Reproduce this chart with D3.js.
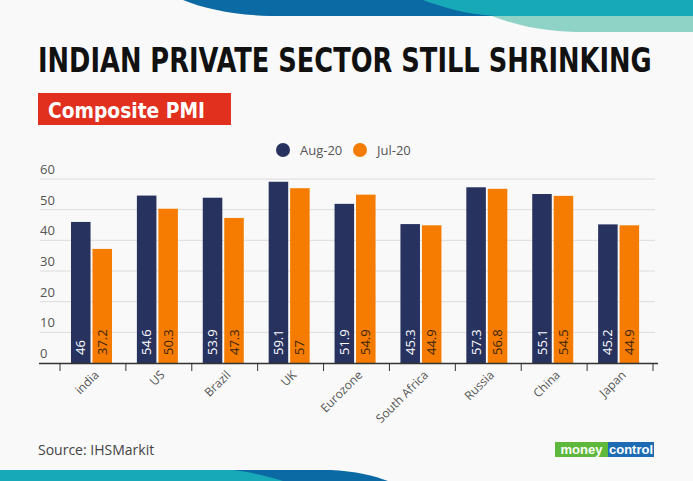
<!DOCTYPE html>
<html>
<head>
<meta charset="utf-8">
<script src="https://cdn.jsdelivr.net/npm/d3@7"></script>
<style>
  html, body { margin: 0; padding: 0; background: #f9f9f9; }
  svg { display: block; }
</style>
</head>
<body>
<script>
const categories = ["india", "US", "Brazil", "UK", "Eurozone", "South Africa", "Russia", "China", "Japan"];
const aug20 = [46, 54.6, 53.9, 59.1, 51.9, 45.3, 57.3, 55.1, 45.2];
const jul20 = [37.2, 50.3, 47.3, 57, 54.9, 44.9, 56.8, 54.5, 44.9];
const seriesNames = ["Aug-20", "Jul-20"];
const yTicks = [0, 10, 20, 30, 40, 50, 60];

const W = 693, H = 481;
const navy = "#27325f", orange = "#f57c00";
const txt = "#555";

const svg = d3.select("body").append("svg").attr("width", W).attr("height", H);
svg.append("rect").attr("width", W).attr("height", H).attr("fill", "#f9f9f9");

// top decoration
svg.append("path").attr("fill", "#0b69a3")
  .attr("d", "M183,0 C205,9 235,15 270,16 L500,16 L500,0 Z");
svg.append("path").attr("fill", "#17a9b7")
  .attr("d", "M423,0 C445,8 465,14 495,16 L693,16 L693,0 Z");
svg.append("path").attr("fill", "#8fd3c6")
  .attr("d", "M492,16 C515,25 540,31 575,32 L693,32 L693,16 Z");

// bottom decoration
svg.append("path").attr("fill", "#0b69a3")
  .attr("d", "M230,470 L330,470 C355,471 375,476 388,481 L230,481 Z");
svg.append("path").attr("fill", "#17a9b7")
  .attr("d", "M0,470 L234,470 C255,473 270,477 283,481 L0,481 Z");

const condensed = "'Liberation Sans Narrow', 'DejaVu Sans Condensed', 'Roboto Condensed', sans-serif";

// fit a text horizontally to a target width by scaling
function fitText(sel, x0, y0, target) {
  const w = sel.node().getComputedTextLength();
  sel.attr("x", 0).attr("y", 0)
    .attr("transform", `translate(${x0},${y0}) scale(${target / w},1)`);
}

// title
const title = svg.append("text")
  .attr("font-family", condensed)
  .attr("font-weight", "bold").attr("font-size", 33).attr("fill", "#111")
  .text("INDIAN PRIVATE SECTOR STILL SHRINKING");
fitText(title, 38, 72, 614);

// subtitle box
svg.append("rect").attr("x", 38).attr("y", 93).attr("width", 193).attr("height", 32).attr("fill", "#e2301f");
const sub = svg.append("text")
  .attr("font-family", condensed)
  .attr("font-weight", "bold").attr("font-size", 22).attr("fill", "#fff")
  .text("Composite PMI");
fitText(sub, 48, 118, 157);

// scales
const y = d3.scaleLinear().domain([0, 60]).range([363, 179]);
const x = d3.scaleBand().domain(categories).range([60, 653]).padding(0);
const xs = d3.scaleBand().domain(seriesNames).range([11, 52]).paddingInner(0.09);

const font = "'Open Sans', 'Noto Sans', sans-serif";

// gridlines + y labels
const g = svg.append("g");
yTicks.forEach(t => {
  if (t > 0) {
    g.append("line").attr("x1", 40).attr("x2", 655).attr("y1", y(t)).attr("y2", y(t))
      .attr("stroke", "#dcdcdc").attr("stroke-width", 1);
  }
  g.append("text").attr("x", 40).attr("y", y(t) - 5)
    .attr("font-family", font).attr("font-size", 13).attr("fill", txt).text(t);
});

// legend
const legend = [{name: seriesNames[0], color: navy, cx: 283, tx: 300},
                {name: seriesNames[1], color: orange, cx: 360, tx: 377}];
legend.forEach(l => {
  svg.append("circle").attr("cx", l.cx).attr("cy", 150).attr("r", 7).attr("fill", l.color);
  svg.append("text").attr("x", l.tx).attr("y", 155).attr("font-family", font)
    .attr("font-size", 13).attr("fill", txt).text(l.name);
});

// bars
const data = categories.map((c, i) => ({c, vals: [
  {s: seriesNames[0], v: aug20[i], color: navy, tc: "#fff"},
  {s: seriesNames[1], v: jul20[i], color: orange, tc: "#3a2410"}
]}));

const groups = svg.append("g").selectAll("g").data(data).join("g")
  .attr("transform", d => `translate(${x(d.c)},0)`);

groups.selectAll("rect").data(d => d.vals).join("rect")
  .attr("x", d => xs(d.s)).attr("width", xs.bandwidth())
  .attr("y", d => y(d.v)).attr("height", d => y(0) - y(d.v))
  .attr("fill", d => d.color);

groups.selectAll("text.val").data(d => d.vals).join("text").attr("class", "val")
  .attr("transform", d => `translate(${xs(d.s) + xs.bandwidth() / 2},355) rotate(-90)`)
  .attr("dy", "0.35em")
  .attr("font-family", font).attr("font-size", 13).attr("fill", d => d.tc)
  .text(d => d.v);

// x axis
svg.append("line").attr("x1", 39).attr("x2", 658).attr("y1", 363.5).attr("y2", 363.5)
  .attr("stroke", "#333").attr("stroke-width", 1.5);
const bounds = categories.map(c => x(c)).concat([x.range()[1]]);
bounds.forEach(b => {
  svg.append("line").attr("x1", b).attr("x2", b).attr("y1", 363).attr("y2", 371)
    .attr("stroke", "#333").attr("stroke-width", 1);
});
categories.forEach(c => {
  svg.append("text")
    .attr("transform", `translate(${x(c) + x.bandwidth() / 2 + 2},371) rotate(-45)`)
    .attr("text-anchor", "end").attr("dy", "0.55em")
    .attr("font-family", font).attr("font-size", 12).attr("fill", txt).text(c);
});

// source
svg.append("text").attr("x", 38).attr("y", 455).attr("font-family", font)
  .attr("font-size", 14).attr("fill", "#444").text("Source: IHSMarkit");

// logo
svg.append("rect").attr("x", 555).attr("y", 442).attr("width", 53).attr("height", 15).attr("fill", "#5db83b");
svg.append("rect").attr("x", 608).attr("y", 442).attr("width", 46).attr("height", 15).attr("fill", "#1d6cb3");
svg.append("text").attr("x", 581.5).attr("y", 454).attr("text-anchor", "middle")
  .attr("font-family", "'Liberation Sans', Arial, sans-serif").attr("font-weight", "bold")
  .attr("font-size", 13).attr("fill", "#fff").text("money");
svg.append("text").attr("x", 631).attr("y", 454).attr("text-anchor", "middle")
  .attr("font-family", "'Liberation Sans', Arial, sans-serif").attr("font-weight", "bold")
  .attr("font-size", 13).attr("fill", "#fff").text("control");
</script>
</body>
</html>
